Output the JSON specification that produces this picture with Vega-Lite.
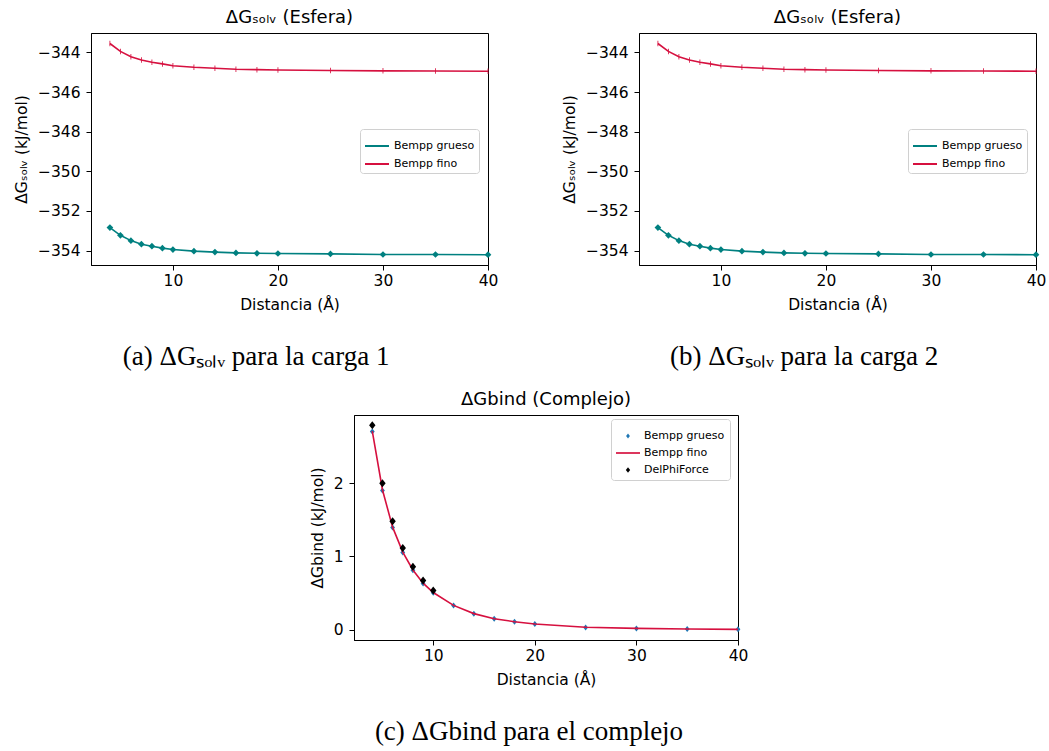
{
  "$schema": "https://vega.github.io/schema/vega-lite/v6.json",
  "background": "white",
  "padding": {"left": 13, "top": 8, "right": 5, "bottom": 5},
  "datasets": {
    "solv": [
      {"d": 4, "serie": "Bempp fino", "g": -343.55},
      {"d": 5, "serie": "Bempp fino", "g": -343.95},
      {"d": 6, "serie": "Bempp fino", "g": -344.22},
      {"d": 7, "serie": "Bempp fino", "g": -344.38},
      {"d": 8, "serie": "Bempp fino", "g": -344.5},
      {"d": 9, "serie": "Bempp fino", "g": -344.58},
      {"d": 10, "serie": "Bempp fino", "g": -344.67},
      {"d": 12, "serie": "Bempp fino", "g": -344.75},
      {"d": 14, "serie": "Bempp fino", "g": -344.8},
      {"d": 16, "serie": "Bempp fino", "g": -344.85},
      {"d": 18, "serie": "Bempp fino", "g": -344.87},
      {"d": 20, "serie": "Bempp fino", "g": -344.89},
      {"d": 25, "serie": "Bempp fino", "g": -344.91},
      {"d": 30, "serie": "Bempp fino", "g": -344.93},
      {"d": 35, "serie": "Bempp fino", "g": -344.94},
      {"d": 40, "serie": "Bempp fino", "g": -344.95},
      {"d": 4, "serie": "Bempp grueso", "g": -352.84},
      {"d": 5, "serie": "Bempp grueso", "g": -353.23},
      {"d": 6, "serie": "Bempp grueso", "g": -353.5},
      {"d": 7, "serie": "Bempp grueso", "g": -353.68},
      {"d": 8, "serie": "Bempp grueso", "g": -353.78},
      {"d": 9, "serie": "Bempp grueso", "g": -353.88},
      {"d": 10, "serie": "Bempp grueso", "g": -353.95},
      {"d": 12, "serie": "Bempp grueso", "g": -354.03},
      {"d": 14, "serie": "Bempp grueso", "g": -354.08},
      {"d": 16, "serie": "Bempp grueso", "g": -354.12},
      {"d": 18, "serie": "Bempp grueso", "g": -354.14},
      {"d": 20, "serie": "Bempp grueso", "g": -354.15},
      {"d": 25, "serie": "Bempp grueso", "g": -354.17},
      {"d": 30, "serie": "Bempp grueso", "g": -354.2},
      {"d": 35, "serie": "Bempp grueso", "g": -354.2},
      {"d": 40, "serie": "Bempp grueso", "g": -354.21}
    ],
    "bind": [
      {"d": 4, "serie": "Bempp grueso", "g": 2.705},
      {"d": 5, "serie": "Bempp grueso", "g": 1.9},
      {"d": 6, "serie": "Bempp grueso", "g": 1.395},
      {"d": 7, "serie": "Bempp grueso", "g": 1.055},
      {"d": 8, "serie": "Bempp grueso", "g": 0.81},
      {"d": 9, "serie": "Bempp grueso", "g": 0.632},
      {"d": 10, "serie": "Bempp grueso", "g": 0.505},
      {"d": 12, "serie": "Bempp grueso", "g": 0.33},
      {"d": 14, "serie": "Bempp grueso", "g": 0.218},
      {"d": 16, "serie": "Bempp grueso", "g": 0.15},
      {"d": 18, "serie": "Bempp grueso", "g": 0.109},
      {"d": 20, "serie": "Bempp grueso", "g": 0.077},
      {"d": 25, "serie": "Bempp grueso", "g": 0.032},
      {"d": 30, "serie": "Bempp grueso", "g": 0.018},
      {"d": 35, "serie": "Bempp grueso", "g": 0.01},
      {"d": 40, "serie": "Bempp grueso", "g": 0.005},
      {"d": 4, "serie": "Bempp fino", "g": 2.71},
      {"d": 5, "serie": "Bempp fino", "g": 1.91},
      {"d": 6, "serie": "Bempp fino", "g": 1.4},
      {"d": 7, "serie": "Bempp fino", "g": 1.06},
      {"d": 8, "serie": "Bempp fino", "g": 0.815},
      {"d": 9, "serie": "Bempp fino", "g": 0.636},
      {"d": 10, "serie": "Bempp fino", "g": 0.508},
      {"d": 12, "serie": "Bempp fino", "g": 0.332},
      {"d": 14, "serie": "Bempp fino", "g": 0.22},
      {"d": 16, "serie": "Bempp fino", "g": 0.151},
      {"d": 18, "serie": "Bempp fino", "g": 0.11},
      {"d": 20, "serie": "Bempp fino", "g": 0.078},
      {"d": 25, "serie": "Bempp fino", "g": 0.033},
      {"d": 30, "serie": "Bempp fino", "g": 0.018},
      {"d": 35, "serie": "Bempp fino", "g": 0.01},
      {"d": 40, "serie": "Bempp fino", "g": 0.005},
      {"d": 4, "serie": "DelPhiForce", "g": 2.79},
      {"d": 5, "serie": "DelPhiForce", "g": 2.0},
      {"d": 6, "serie": "DelPhiForce", "g": 1.48},
      {"d": 7, "serie": "DelPhiForce", "g": 1.115},
      {"d": 8, "serie": "DelPhiForce", "g": 0.86},
      {"d": 9, "serie": "DelPhiForce", "g": 0.673},
      {"d": 10, "serie": "DelPhiForce", "g": 0.536}
    ]
  },
  "spacing": 20,
  "resolve": {"scale": {"color": "independent", "shape": "independent", "size": "independent"}, "legend": {"color": "independent", "shape": "independent", "size": "independent"}},
  "vconcat": [
    {
      "spacing": 62,
      "resolve": {"scale": {"color": "independent", "shape": "independent", "size": "independent"}, "legend": {"color": "independent", "shape": "independent", "size": "independent"}},
      "hconcat": [
        {
          "title": {"text": "(a) ΔGₛₒₗᵥ para la carga 1", "orient": "bottom", "anchor": "middle", "font": "Liberation Serif", "fontSize": 27, "fontWeight": "normal", "color": "black", "offset": 30},
          "vconcat": [
            {
              "width": 397, "height": 232,
              "title": {"text": "ΔGₛₒₗᵥ (Esfera)", "font": "DejaVu Sans", "fontSize": 18, "fontWeight": "normal", "color": "black", "offset": 6},
              "data": {"name": "solv"},
              "layer": [
                {
                  "mark": {"type": "line", "strokeWidth": 1.6},
                  "encoding": {
                    "x": {"field": "d", "type": "quantitative", "scale": {"domain": [2.2, 40], "nice": false, "zero": false}, "axis": {"values": [10, 20, 30, 40], "title": "Distancia (Å)"}},
                    "y": {"field": "g", "type": "quantitative", "scale": {"domain": [-354.73, -343.02], "nice": false, "zero": false}, "axis": {"values": [-354, -352, -350, -348, -346, -344], "title": "ΔGₛₒₗᵥ (kJ/mol)"}},
                    "color": {"field": "serie", "type": "nominal", "scale": {"domain": ["Bempp grueso", "Bempp fino"], "range": ["#008080", "#d6103f"]},
                      "legend": {"title": null, "orient": "none", "legendX": 269, "legendY": 96, "symbolType": "stroke", "symbolSize": 576, "symbolStrokeWidth": 2, "labelFont": "DejaVu Sans", "labelFontSize": 11, "labelColor": "black", "fillColor": "white", "strokeColor": "#d0d0d0", "padding": 4, "cornerRadius": 3, "rowPadding": 0}}
                  }
                },
                {
                  "transform": [{"filter": {"field": "serie", "equal": "Bempp grueso"}}],
                  "mark": {"type": "point", "filled": true, "opacity": 1, "shape": "diamond", "size": 45, "color": "#008080"},
                  "encoding": {
                    "x": {"field": "d", "type": "quantitative"},
                    "y": {"field": "g", "type": "quantitative"}
                  }
                },
                {
                  "transform": [{"filter": {"field": "serie", "equal": "Bempp fino"}}],
                  "mark": {"type": "point", "filled": true, "opacity": 1, "shape": "M-0.15,-1H0.15V1H-0.15Z", "size": 30, "color": "#d6103f"},
                  "encoding": {
                    "x": {"field": "d", "type": "quantitative"},
                    "y": {"field": "g", "type": "quantitative"}
                  }
                }
              ]
            }
          ]
        },
        {
          "title": {"text": "(b) ΔGₛₒₗᵥ para la carga 2", "orient": "bottom", "anchor": "middle", "font": "Liberation Serif", "fontSize": 27, "fontWeight": "normal", "color": "black", "offset": 30},
          "vconcat": [
            {
              "width": 397, "height": 232,
              "title": {"text": "ΔGₛₒₗᵥ (Esfera)", "font": "DejaVu Sans", "fontSize": 18, "fontWeight": "normal", "color": "black", "offset": 6},
              "data": {"name": "solv"},
              "layer": [
                {
                  "mark": {"type": "line", "strokeWidth": 1.6},
                  "encoding": {
                    "x": {"field": "d", "type": "quantitative", "scale": {"domain": [2.2, 40], "nice": false, "zero": false}, "axis": {"values": [10, 20, 30, 40], "title": "Distancia (Å)"}},
                    "y": {"field": "g", "type": "quantitative", "scale": {"domain": [-354.73, -343.02], "nice": false, "zero": false}, "axis": {"values": [-354, -352, -350, -348, -346, -344], "title": "ΔGₛₒₗᵥ (kJ/mol)"}},
                    "color": {"field": "serie", "type": "nominal", "scale": {"domain": ["Bempp grueso", "Bempp fino"], "range": ["#008080", "#d6103f"]},
                      "legend": {"title": null, "orient": "none", "legendX": 269, "legendY": 96, "symbolType": "stroke", "symbolSize": 576, "symbolStrokeWidth": 2, "labelFont": "DejaVu Sans", "labelFontSize": 11, "labelColor": "black", "fillColor": "white", "strokeColor": "#d0d0d0", "padding": 4, "cornerRadius": 3, "rowPadding": 0}}
                  }
                },
                {
                  "transform": [{"filter": {"field": "serie", "equal": "Bempp grueso"}}],
                  "mark": {"type": "point", "filled": true, "opacity": 1, "shape": "diamond", "size": 45, "color": "#008080"},
                  "encoding": {
                    "x": {"field": "d", "type": "quantitative"},
                    "y": {"field": "g", "type": "quantitative"}
                  }
                },
                {
                  "transform": [{"filter": {"field": "serie", "equal": "Bempp fino"}}],
                  "mark": {"type": "point", "filled": true, "opacity": 1, "shape": "M-0.15,-1H0.15V1H-0.15Z", "size": 30, "color": "#d6103f"},
                  "encoding": {
                    "x": {"field": "d", "type": "quantitative"},
                    "y": {"field": "g", "type": "quantitative"}
                  }
                }
              ]
            }
          ]
        }
      ]
    },
    {
      "spacing": 0,
      "resolve": {"scale": {"color": "independent", "shape": "independent", "size": "independent"}, "legend": {"color": "independent", "shape": "independent", "size": "independent"}},
      "hconcat": [
        {
          "width": 218, "height": 10,
          "view": {"stroke": null},
          "data": {"values": []},
          "mark": "point"
        },
        {
          "title": {"text": "(c) ΔGbind para el complejo", "orient": "bottom", "anchor": "middle", "font": "Liberation Serif", "fontSize": 27, "fontWeight": "normal", "color": "black", "offset": 30},
          "vconcat": [
            {
              "width": 384, "height": 225,
              "title": {"text": "ΔGbind (Complejo)", "font": "DejaVu Sans", "fontSize": 18, "fontWeight": "normal", "color": "black", "offset": 6},
              "data": {"name": "bind"},
              "layer": [
                {
                  "transform": [{"filter": {"field": "serie", "equal": "Bempp grueso"}}],
                  "mark": {"type": "point", "filled": true, "opacity": 1, "size": 900},
                  "encoding": {
                    "x": {"field": "d", "type": "quantitative", "scale": {"domain": [2.2, 40], "nice": false, "zero": false}, "axis": {"values": [10, 20, 30, 40], "title": "Distancia (Å)"}},
                    "y": {"field": "g", "type": "quantitative", "scale": {"domain": [-0.14, 2.93], "nice": false, "zero": false}, "axis": {"values": [0, 1, 2], "format": "d", "title": "ΔGbind (kJ/mol)"}},
                    "color": {"field": "serie", "type": "nominal", "scale": {"domain": ["Bempp grueso", "Bempp fino", "DelPhiForce"], "range": ["#1f77b4", "#d6103f", "#000000"]},
                      "legend": {"title": null, "orient": "none", "legendX": 257, "legendY": 4, "symbolSize": 576, "labelFont": "DejaVu Sans", "labelFontSize": 11, "labelColor": "black", "fillColor": "white", "strokeColor": "#d0d0d0", "padding": 5, "cornerRadius": 3, "rowPadding": 0, "symbolStrokeWidth": 0, "symbolOpacity": 1}},
                    "shape": {"field": "serie", "type": "nominal", "scale": {"domain": ["Bempp grueso", "Bempp fino", "DelPhiForce"], "range": ["M0,-0.2L0.16,0L0,0.2L-0.16,0Z", "M-1,-0.07H1V0.07H-1Z", "M0,-0.22L0.18,0L0,0.22L-0.18,0Z"]}}
                  }
                },
                {
                  "transform": [{"filter": {"field": "serie", "equal": "Bempp fino"}}],
                  "mark": {"type": "line", "strokeWidth": 1.6, "color": "#d6103f"},
                  "encoding": {
                    "x": {"field": "d", "type": "quantitative"},
                    "y": {"field": "g", "type": "quantitative"}
                  }
                },
                {
                  "transform": [{"filter": {"field": "serie", "equal": "DelPhiForce"}}],
                  "mark": {"type": "point", "filled": true, "opacity": 1, "color": "#000000", "shape": "M0,-0.2L0.16,0L0,0.2L-0.16,0Z", "size": 1600},
                  "encoding": {
                    "x": {"field": "d", "type": "quantitative"},
                    "y": {"field": "g", "type": "quantitative"}
                  }
                }
              ]
            }
          ]
        }
      ]
    }
  ],
  "config": {
    "view": {"stroke": "black", "strokeWidth": 1},
    "axis": {
      "grid": false,
      "domainColor": "black",
      "domainWidth": 1,
      "tickColor": "black",
      "tickSize": 5,
      "tickWidth": 1,
      "labelFont": "DejaVu Sans",
      "labelFontSize": 15.5,
      "labelColor": "black",
      "labelPadding": 3,
      "titleFont": "DejaVu Sans",
      "titleFontSize": 15.5,
      "titleFontWeight": "normal",
      "titleColor": "black",
      "titlePadding": 9,
      "labelFlush": false,
      "labelOverlap": false
    },
    "axisY": {"titlePadding": 8, "labelPadding": 6}
  }
}
